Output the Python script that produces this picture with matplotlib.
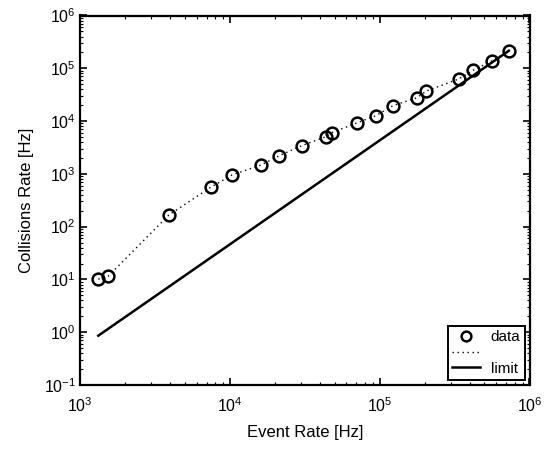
import matplotlib
matplotlib.use("Agg")
import matplotlib.pyplot as plt
from matplotlib.lines import Line2D
from matplotlib.ticker import LogLocator, NullFormatter

plt.rcParams['font.family'] = ['Liberation Sans', 'DejaVu Sans']
plt.rcParams['mathtext.fontset'] = 'custom'
plt.rcParams['mathtext.rm'] = 'Liberation Sans'

# Measured event rate vs. collision rate
event_rate = [1325, 1546, 3927, 7450, 10350, 16220, 21380, 30200, 43850, 47870,
              70300, 94200, 122700, 177800, 205000, 337000, 420000, 565000, 728000]
collision_rate = [10.1, 11.6, 167, 557, 953, 1475, 2213, 3420, 5066, 6030,
                  9200, 12650, 19580, 27750, 37150, 62700, 91600, 139300, 212700]

# Theoretical limit (straight line in log-log space)
limit_x = [1325, 728000]
limit_y = [0.86, 2.15e5]

fig = plt.figure(figsize=(5.48, 4.51), dpi=100)
ax = fig.add_axes([80/548, 1 - 385/451, 449.5/548, 369.5/451])

ax.plot(event_rate, collision_rate, linestyle='none', marker='o', ms=8.5,
        mfc='none', mec='black', mew=1.8)
ax.plot(event_rate, collision_rate, linestyle=(0, (1, 2.6)), color='black', lw=1.0)
ax.plot(limit_x, limit_y, linestyle='-', color='black', lw=1.8)

ax.set_xscale('log')
ax.set_yscale('log')
ax.set_xlim(1e3, 1e6)
ax.set_ylim(1e-1, 1e6)
ax.xaxis.set_major_locator(LogLocator(base=10, numticks=10))
ax.yaxis.set_major_locator(LogLocator(base=10, numticks=10))
ax.xaxis.set_minor_locator(LogLocator(base=10, subs=range(2, 10), numticks=20))
ax.yaxis.set_minor_locator(LogLocator(base=10, subs=range(2, 10), numticks=20))
ax.xaxis.set_minor_formatter(NullFormatter())
ax.yaxis.set_minor_formatter(NullFormatter())

ax.tick_params(which='both', direction='in', top=True, right=True, labelsize=11.5)
ax.tick_params(axis='x', which='major', pad=8)
ax.tick_params(axis='y', which='major', pad=3)
ax.tick_params(which='major', length=5, width=1.2)
ax.tick_params(which='minor', length=2.5, width=0.8)
for s in ax.spines.values():
    s.set_linewidth(1.6)

ax.set_xlabel('Event Rate [Hz]', fontsize=12, labelpad=7)
ax.set_ylabel('Collisions Rate [Hz]', fontsize=12, labelpad=7)

handles = [
    Line2D([], [], linestyle='none', marker='o', ms=7, mfc='none', mec='black', mew=1.8),
    Line2D([], [], linestyle=(0, (1, 2.6)), color='black', lw=1.0),
    Line2D([], [], linestyle='-', color='black', lw=1.8),
]
leg = ax.legend(handles, ['data', '', 'limit'], loc='lower right', fontsize=11,
                frameon=True, fancybox=False, edgecolor='black', framealpha=1,
                borderaxespad=0.3, handlelength=1.8, labelspacing=0.12,
                borderpad=0.3, handletextpad=0.7)
leg.get_frame().set_linewidth(1.4)

fig.savefig('out.png', dpi=100)
